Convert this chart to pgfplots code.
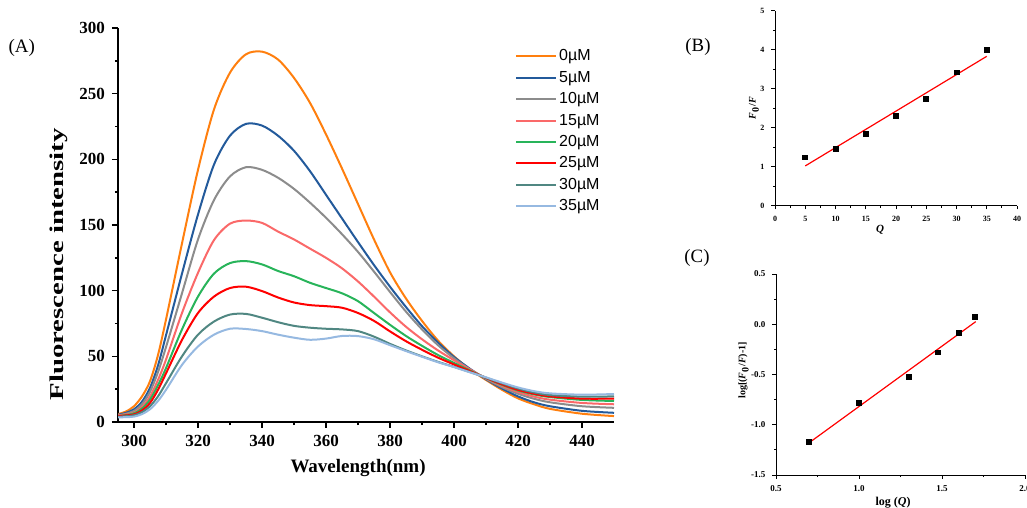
\documentclass[border=0pt]{standalone}
\usepackage{pgfplots}
\pgfplotsset{compat=1.18}
\usepackage{pgfplotstable}
\usepackage{graphicx}
\usepackage{fontspec}
\setmainfont{Liberation Serif}
\newfontfamily\arial{Liberation Sans}

\definecolor{cOr}{RGB}{255,127,14}
\definecolor{cBl}{RGB}{35,90,155}
\definecolor{cGr}{RGB}{140,140,140}
\definecolor{cPk}{RGB}{250,105,105}
\definecolor{cGn}{RGB}{40,180,90}
\definecolor{cRd}{RGB}{255,0,0}
\definecolor{cTl}{RGB}{80,135,130}
\definecolor{cLb}{RGB}{150,185,225}

% fluorescence spectra, quencher 0..35 uM
\pgfplotstableread{
nm    c0    c5    c10   c15   c20   c25   c30   c35
295   6     5.5   5     5     4.5   4.5   4     3.5
297.5 8     7     6.3   5.8   5.3   5     4.4   3.7
300   12    9.7   8.4   7.1   6.6   5.8   5.1   4.1
302.5 19.5  15.5  13.5  11.5  10.2  8.8   7.5   6
305   31    26    23    19.5  17    14.5  12    9.7
307.5 51    43    38    32    28    24.5  19.5  16
310   78    66    57    47.5  41    37    29.5  24.5
315   136   113   98    83    70.5  62.5  50    43.5
320   192   158   139   113.6 95.5  83    66.5  57.5
325   238   196   169   138.5 113   95.5  76.5  66.5
330   266   218   187   151   121   102   81.8  71
335   280   227   194   153.4 122.5 103   82.3  70.8
340   282   225.7 192   151.6 120   99.7  79.4  69.2
345   276   218   186   145   115   94.8  76    66.5
350   262   206.5 177.5 139   111   91    73.2  64.2
355   243   191   167   132   106   89    71.8  62.6
360   219   173   155.5 125   102   88.2  71    63.5
365   193   155   143   117   98    87    70.5  65.5
370   166   137   129.5 107   92    83    69.2  65.4
375   139   119.5 114.5 95.5  83    77    65    63
380   114   103   99    83.5  74    69    59.5  58.5
385   94    87.5  84    72.5  65.5  61.5  54.5  54
390   77    73    70.5  63    58    55    50    49.7
395   62    60.5  58.5  54.5  51    49    45.8  45.5
400   50    49.5  48.5  47    45    43.8  42    41.8
405   40    40.5  40    40    39.2  38.7  38    37.8
410   32    32.5  32.8  33.3  33.5  33.6  33.8  34
415   24.5  25.5  26.5  27.5  28.3  28.7  29.5  30
420   18    19.5  21.5  22.8  24    24.5  25.5  26.3
425   13.5  15    17.7  19.3  21    21.5  22.5  23.5
430   10    12    15    17    19    19.5  20.5  21.8
440   6.3   8.5   12    14.5  16.8  17.8  19.3  20.8
450   4.5   7     10.8  13.5  16    17.8  19.5  21.3
}\spectra

\begin{document}
\begin{tikzpicture}
\path[use as bounding box] (0pt,0pt) rectangle (513.5pt,254pt);

\node[font=\fontsize{9.5}{11}\selectfont] at (10.85pt,230.25pt) {(A)};
\node[font=\fontsize{9.4}{11}\selectfont] at (349pt,230.5pt) {(B)};
\node[font=\fontsize{9.4}{11}\selectfont] at (348.5pt,125pt) {(C)};

% (A) spectra
\begin{axis}[
  at={(59pt,43pt)}, anchor=south west,
  scale only axis, width=248pt, height=197pt,
  xmin=295, xmax=450, ymin=0, ymax=300,
  axis lines=left, axis line style={-, line width=1pt},
  tick align=outside, major tick length=3pt, minor tick length=1.6pt,
  tick style={black, line width=0.8pt},
  xtick={300,320,...,440}, minor x tick num=1,
  ytick={0,50,...,300}, minor y tick num=1,
  tick label style={font=\bfseries\fontsize{8.5}{9}\selectfont},
  /pgf/number format/assume math mode=true,
  xlabel={Wavelength(nm)},
  xlabel style={at={(axis description cs:0.484,-0.117)}, anchor=center,
    font=\bfseries\fontsize{9.5}{11}\selectfont},
  ylabel={\scalebox{1}[0.68]{Fluorescence intensity}},
  ylabel style={at={(axis description cs:-0.12,0.40)}, anchor=center,
    font=\bfseries\fontsize{14.4}{16}\selectfont},
  legend style={at={(0.80,0.953)}, anchor=north west, draw=none, fill=none,
    inner sep=0pt, row sep=1.2pt,
    font=\arial\fontsize{8}{9}\selectfont,
    nodes={inner sep=1pt, text height=6pt, text depth=1.5pt},
    /tikz/every even column/.append style={column sep=2.5pt}},
  legend cell align=left,
  legend image code/.code={\draw[#1, line width=1pt] (0pt,0pt) -- (20pt,0pt);},
  every axis plot/.append style={line width=1pt, smooth, tension=0.5},
]
\addplot[cOr] table[x=nm, y=c0] {\spectra};
\addplot[cBl] table[x=nm, y=c5] {\spectra};
\addplot[cGr] table[x=nm, y=c10] {\spectra};
\addplot[cPk] table[x=nm, y=c15] {\spectra};
\addplot[cGn] table[x=nm, y=c20] {\spectra};
\addplot[cRd] table[x=nm, y=c25] {\spectra};
\addplot[cTl] table[x=nm, y=c30] {\spectra};
\addplot[cLb] table[x=nm, y=c35] {\spectra};
\legend{0µM, 5µM, 10µM, 15µM, 20µM, 25µM, 30µM, 35µM}
\end{axis}

% (B) Stern-Volmer
\begin{axis}[
  at={(387.5pt,151.15pt)}, anchor=south west,
  scale only axis, width=121pt, height=97.5pt,
  xmin=0, xmax=40, ymin=0, ymax=5,
  axis lines=left, axis line style={-, line width=0.5pt},
  tick align=outside, major tick length=1.8pt, minor tick length=1pt,
  tick style={black, line width=0.4pt},
  xtick={0,5,...,40}, ytick={0,1,...,5},
  minor x tick num=1, minor y tick num=1,
  tick label style={font=\bfseries\fontsize{4}{5}\selectfont},
  /pgf/number format/assume math mode=true,
  xlabel={\textbf{\textit{Q}}},
  xlabel style={at={(axis description cs:0.434,-0.125)}, anchor=center,
    font=\fontsize{5.5}{6}\selectfont},
  ylabel={\textbf{\textit{F}\textsubscript{0}/\textit{F}}},
  ylabel style={at={(axis description cs:-0.087,0.5)}, anchor=center,
    font=\fontsize{5}{6}\selectfont},
]
\addplot[only marks, mark=square*, mark size=1.2pt, black]
  coordinates {(5,1.24) (10,1.45) (15,1.84) (20,2.31) (25,2.74) (30,3.42) (35,4.0)};
\addplot[red, line width=0.6pt] coordinates {(5,1.02) (35,3.83)};
\end{axis}

% (C) double log
\begin{axis}[
  at={(388pt,16.5pt)}, anchor=south west,
  scale only axis, width=124.5pt, height=100.5pt,
  xmin=0.5, xmax=2.0, ymin=-1.5, ymax=0.5,
  axis lines=left, axis line style={-, line width=0.5pt},
  tick align=outside, major tick length=1.8pt, minor tick length=1pt,
  tick style={black, line width=0.4pt},
  xtick={0.5,1.0,1.5,2.0}, ytick={-1.5,-1.0,...,0.5},
  minor x tick num=1, minor y tick num=1,
  tick label style={font=\bfseries\fontsize{4.5}{5}\selectfont},
  /pgf/number format/.cd, fixed, fixed zerofill, precision=1, assume math mode=true,
  /pgfplots/.cd,
  xlabel={\textbf{log (\textit{Q})}},
  xlabel style={at={(axis description cs:0.47,-0.14)}, anchor=center,
    font=\fontsize{6}{7}\selectfont},
  ylabel={\textbf{log[(\textit{F}\textsubscript{0}/\textit{F})-1]}},
  ylabel style={at={(axis description cs:-0.13,0.52)}, anchor=center,
    font=\fontsize{5}{6}\selectfont},
]
\addplot[only marks, mark=square*, mark size=1.2pt, black]
  coordinates {(0.699,-1.17) (1.0,-0.78) (1.301,-0.52) (1.477,-0.28) (1.602,-0.085) (1.699,0.075)};
\addplot[red, line width=0.6pt] coordinates {(0.703,-1.175) (1.703,0.026)};
\end{axis}
\end{tikzpicture}
\end{document}
